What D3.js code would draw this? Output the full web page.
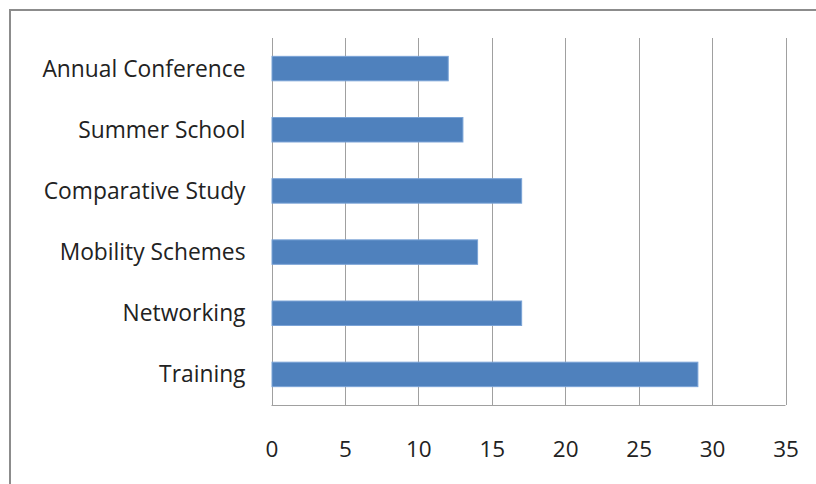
<!DOCTYPE html>
<html><head><meta charset="utf-8">
<script src="https://cdn.jsdelivr.net/npm/d3@7"></script>
<style>body{margin:0;background:#fff;} svg{display:block;}</style>
</head><body>
<svg id="c" width="816" height="484"></svg>
<script>
const categories = ["Annual Conference","Summer School","Comparative Study","Mobility Schemes","Networking","Training"];
const values = [12, 13, 17, 14, 17, 29];
const xTicks = [0,5,10,15,20,25,30,35];

const svg = d3.select("#c");
const font = "'Open Sans', sans-serif";
svg.append("rect").attr("x",10).attr("y",10).attr("width",820).attr("height",490)
  .attr("fill","#fff").attr("stroke","#8c8c8c").attr("stroke-width",2);

const pLeft = 271.5, pRight = 785.5, pTop = 38, pBottom = 405;
const x = d3.scaleLinear().domain([0,35]).range([pLeft,pRight]);
const y = d3.scaleBand().domain(categories).range([pTop,pBottom]).paddingInner(0.6).paddingOuter(0.3);

const g = svg.append("g");
g.selectAll("line.grid").data(xTicks).join("line").attr("class","grid")
  .attr("x1",d=>Math.round(x(d))+0.5).attr("x2",d=>Math.round(x(d))+0.5)
  .attr("y1",pTop).attr("y2",pBottom).attr("stroke","#a0a0a0").attr("stroke-width",1);
g.append("line").attr("x1",pLeft).attr("x2",pRight).attr("y1",pBottom+0.5).attr("y2",pBottom+0.5)
  .attr("stroke","#a0a0a0").attr("stroke-width",1);

g.selectAll("rect.bar").data(values).join("rect").attr("class","bar")
  .attr("x",x(0)+0.5).attr("y",(d,i)=>y(categories[i]))
  .attr("width",d=>x(d)-x(0)).attr("height",y.bandwidth())
  .attr("fill","#4f81bd").attr("stroke","#7aa3d6").attr("stroke-width",1);

const xAxis = d3.axisBottom(x).tickValues(xTicks).tickSize(0).tickPadding(0);
const ax = svg.append("g").attr("transform",`translate(0,${pBottom})`).call(xAxis);
ax.select(".domain").remove();
ax.selectAll("text").attr("y",52).attr("dy",0).attr("font-family",font).attr("font-size",22.5).attr("fill","#222");

const yAxis = d3.axisLeft(y).tickSize(0).tickPadding(26);
const ay = svg.append("g").attr("transform",`translate(${pLeft},0)`).call(yAxis);
ay.select(".domain").remove();
ay.selectAll("text").attr("font-family",font).attr("font-size",22.8).attr("fill","#222").attr("dy","0.35em");
</script>
</body></html>
